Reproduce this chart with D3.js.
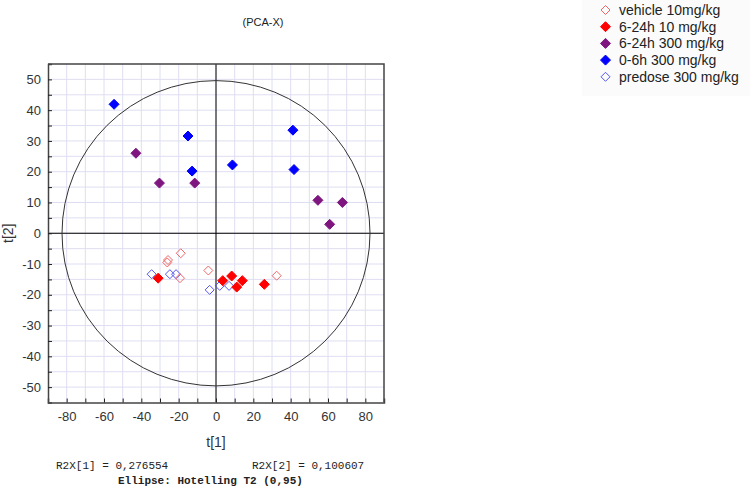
<!DOCTYPE html>
<html>
<head>
<meta charset="utf-8">
<script src="https://cdn.jsdelivr.net/npm/d3@7"></script>
<style>
  body { margin: 0; background: #fff; }
  svg { display: block; font-family: "Liberation Sans", Arial, sans-serif; }
</style>
</head>
<body>
<svg id="chart" width="750" height="489"></svg>
<script>
// series names (legend order)
const seriesNames = ["vehicle 10mg/kg", "6-24h 10 mg/kg", "6-24h 300 mg/kg", "0-6h 300 mg/kg", "predose 300 mg/kg"];
const seriesFilled = [false, true, true, true, false];
const seriesColors = ["#f06666", "#ff0000", "#7f167f", "#0000ff", "#5555ee"];

// score values t[1], t[2]
const vehicleT1 = [-18.9, -25.7, -26.1, -19.3, -4.1, 32.5];
const vehicleT2 = [-6.5, -8.7, -9.5, -14.6, -12.1, -13.8];
const low624T1 = [-31.0, 3.6, 8.4, 11.1, 14.1, 25.9];
const low624T2 = [-14.6, -15.4, -13.9, -17.5, -15.4, -16.6];
const high624T1 = [-42.9, -30.3, -11.4, 54.6, 67.7, 60.9];
const high624T2 = [26.0, 16.3, 16.3, 10.7, 10.0, 2.9];
const early06T1 = [-54.6, -15.0, -12.8, 8.8, 41.2, 41.8];
const early06T2 = [41.9, 31.6, 20.2, 22.2, 33.5, 20.7];
const predoseT1 = [-34.5, -24.7, -21.4, -3.4, 2.0, 7.0];
const predoseT2 = [-13.3, -13.3, -13.3, -18.4, -17.1, -17.1];

// Hotelling T2 ellipse radii
const ellipseT1 = 82.5;
const ellipseT2 = 49.6;

const xTicks = d3.range(-80, 81, 10);
const yTicks = d3.range(-50, 51, 5);

const r2x1 = "R2X[1] = 0,276554";
const r2x2 = "R2X[2] = 0,100607";
const ellipseNote = "Ellipse: Hotelling T2 (0,95)";

const svg = d3.select("#chart");

const plot = { left: 48, right: 384, top: 64, bottom: 402.5 };

const x = d3.scaleLinear().domain([-90, 90]).range([plot.left, plot.right]);
const y = d3.scaleLinear().domain([-55, 55]).range([plot.bottom, plot.top]);

// legend background
svg.append("rect")
  .attr("x", 582).attr("y", 0).attr("width", 168).attr("height", 96)
  .attr("fill", "#fbfbfb");

// title
svg.append("text")
  .attr("x", 263).attr("y", 26)
  .attr("text-anchor", "middle")
  .attr("font-size", 11)
  .attr("fill", "#222")
  .text("(PCA-X)");

// grid
const grid = svg.append("g");
grid.selectAll(".gx").data(xTicks).enter().append("line")
  .attr("x1", d => x(d)).attr("x2", d => x(d))
  .attr("y1", plot.top).attr("y2", plot.bottom)
  .attr("stroke", "#dedef2").attr("stroke-width", 1);
grid.selectAll(".gy").data(yTicks).enter().append("line")
  .attr("x1", plot.left).attr("x2", plot.right)
  .attr("y1", d => y(d)).attr("y2", d => y(d))
  .attr("stroke", "#dedef2").attr("stroke-width", 1);

// zero lines
svg.append("line")
  .attr("x1", x(0)).attr("x2", x(0)).attr("y1", plot.top).attr("y2", plot.bottom)
  .attr("stroke", "#000").attr("stroke-width", 1);
svg.append("line")
  .attr("x1", plot.left).attr("x2", plot.right).attr("y1", y(0)).attr("y2", y(0))
  .attr("stroke", "#000").attr("stroke-width", 1);

// ellipse
svg.append("ellipse")
  .attr("cx", x(0)).attr("cy", y(0))
  .attr("rx", x(ellipseT1) - x(0))
  .attr("ry", y(0) - y(ellipseT2))
  .attr("fill", "none")
  .attr("stroke", "#333").attr("stroke-width", 1);

// frame top/right
svg.append("path")
  .attr("d", `M${plot.left},${plot.top}H${plot.right}V${plot.bottom}`)
  .attr("fill", "none").attr("stroke", "#444").attr("stroke-width", 1.5);

// axes
const yAxis = svg.append("g")
  .attr("transform", `translate(${plot.left},0)`)
  .call(d3.axisLeft(y).tickValues(yTicks).tickSize(-4).tickPadding(7)
    .tickFormat(d => d % 10 === 0 ? d : ""));
const xAxis = svg.append("g")
  .attr("transform", `translate(0,${plot.bottom})`)
  .call(d3.axisBottom(x).tickValues(xTicks).tickSize(-4).tickPadding(9)
    .tickFormat(d => d % 20 === 0 ? d : ""));

[xAxis, yAxis].forEach(a => {
  a.select(".domain").attr("stroke", "#444").attr("stroke-width", 1.5);
  a.selectAll(".tick line").attr("stroke", "#222");
  a.selectAll(".tick text")
    .attr("font-size", 13)
    .attr("font-family", "Liberation Sans, Arial, sans-serif")
    .attr("fill", "#333");
});

// axis titles
svg.append("text")
  .attr("x", x(0)).attr("y", 447)
  .attr("text-anchor", "middle")
  .attr("font-size", 14).attr("fill", "#333")
  .text("t[1]");
svg.append("text")
  .attr("transform", `translate(13,${y(0)}) rotate(-90)`)
  .attr("text-anchor", "middle")
  .attr("font-size", 14).attr("fill", "#333")
  .text("t[2]");

// footer texts
const mono = "Liberation Mono, Courier New, monospace";
svg.append("text").attr("x", 56).attr("y", 469)
  .attr("font-family", mono).attr("font-size", 11).attr("fill", "#222")
  .text(r2x1);
svg.append("text").attr("x", 252).attr("y", 469)
  .attr("font-family", mono).attr("font-size", 11).attr("fill", "#222")
  .text(r2x2);
svg.append("text").attr("x", 118).attr("y", 484)
  .attr("font-family", mono).attr("font-size", 11).attr("fill", "#222")
  .attr("font-weight", "bold")
  .text(ellipseNote);

// points
const diamond = r => `M0,${-r}L${r},0L0,${r}L${-r},0Z`;
const series = [
  { t1: predoseT1, t2: predoseT2, k: 4 },
  { t1: vehicleT1, t2: vehicleT2, k: 0 },
  { t1: low624T1, t2: low624T2, k: 1 },
  { t1: high624T1, t2: high624T2, k: 2 },
  { t1: early06T1, t2: early06T2, k: 3 }
];
series.forEach(s => {
  const pts = s.t1.map((v, i) => [v, s.t2[i]]);
  svg.append("g").selectAll("path").data(pts).enter().append("path")
    .attr("transform", d => `translate(${x(d[0])},${y(d[1])})`)
    .attr("d", seriesFilled[s.k] ? diamond(5) : diamond(4.5))
    .attr("fill", seriesFilled[s.k] ? seriesColors[s.k] : "none")
    .attr("stroke", seriesColors[s.k])
    .attr("stroke-width", 1);
});

// legend
const legend = svg.append("g");
seriesNames.forEach((name, i) => {
  const ly = 10 + i * 16.7;
  legend.append("path")
    .attr("transform", `translate(605.5,${ly})`)
    .attr("d", seriesFilled[i] ? diamond(5) : diamond(4.5))
    .attr("fill", seriesFilled[i] ? seriesColors[i] : "none")
    .attr("stroke", seriesColors[i]).attr("stroke-width", 1);
  legend.append("text")
    .attr("x", 619).attr("y", ly + 5)
    .attr("font-size", 14).attr("fill", "#222")
    .text(name);
});
</script>
</body>
</html>
